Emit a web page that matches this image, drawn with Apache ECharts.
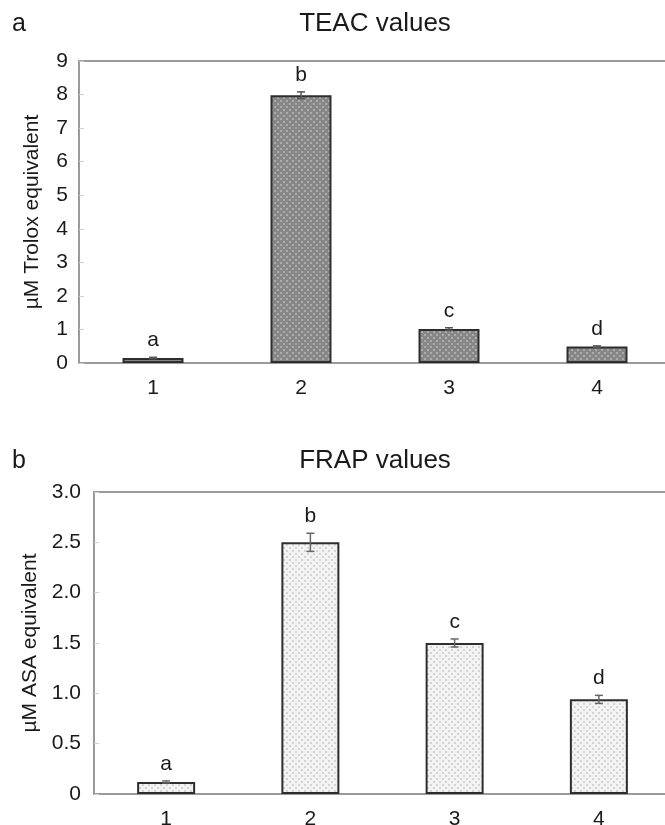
<!DOCTYPE html>
<html><head><meta charset="utf-8">
<script src="https://cdn.jsdelivr.net/npm/echarts@6/dist/echarts.min.js"></script>
<style>html,body{margin:0;padding:0;background:#fff}#c{width:665px;height:825px}</style>
</head><body><div id="c"></div>
<script>
// ---- data ----
const categories = ['1', '2', '3', '4'];
const teacValues = [0.15, 7.98, 1.01, 0.49];
const teacErrors = [0.02, 0.10, 0.04, 0.02];
const teacLetters = ['a', 'b', 'c', 'd'];
const frapValues = [0.12, 2.50, 1.50, 0.94];
const frapErrors = [0.01, 0.09, 0.04, 0.04];
const frapLetters = ['a', 'b', 'c', 'd'];
const teacTitle = 'TEAC values';
const frapTitle = 'FRAP values';
const teacAxisName = 'µM Trolox equivalent';
const frapAxisName = 'µM ASA equivalent';

const FONT = "'Liberation Sans', Arial, sans-serif";

function pattern(bg, dot) {
  const c = document.createElement('canvas');
  c.width = 6; c.height = 6;
  const g = c.getContext('2d');
  g.fillStyle = bg; g.fillRect(0, 0, 6, 6);
  g.fillStyle = dot;
  g.fillRect(1, 1, 2, 2);
  g.fillRect(4, 4, 2, 2);
  return c;
}

function errRender(letters, color) {
  return function (params, api) {
    const x = api.value(0), v = api.value(1), e = api.value(2);
    const hi = api.coord([x, v + e]);
    const lo = api.coord([x, v - e]);
    const top = api.coord([x, v]);
    const hw = 4;
    const style = { stroke: color, lineWidth: 1.5 };
    const children = [];
    if (e > 0) {
      children.push({ type: 'line', shape: { x1: hi[0], y1: hi[1], x2: lo[0], y2: lo[1] }, style });
      children.push({ type: 'line', shape: { x1: hi[0] - hw, y1: hi[1], x2: hi[0] + hw, y2: hi[1] }, style });
      children.push({ type: 'line', shape: { x1: lo[0] - hw, y1: lo[1], x2: lo[0] + hw, y2: lo[1] }, style });
    }
    const ty = Math.min(hi[1], top[1]) - 17;
    children.push({ type: 'text', x: hi[0], y: ty, style: { text: letters[params.dataIndex], fill: '#1a1a1a', font: '21px ' + FONT, align: 'center', verticalAlign: 'middle' } });
    return { type: 'group', children };
  };
}

function axisCommon() {
  return {
    axisLine: { show: true, lineStyle: { color: '#9a9a9a', width: 2 } },
    splitLine: { show: false },
  };
}

const chart = echarts.init(document.getElementById('c'), null, { renderer: 'canvas' });
chart.setOption({
  backgroundColor: '#ffffff',
  animation: false,
  graphic: [
    { type: 'text', x: 12, y: 24, style: { text: 'a', font: '25px ' + FONT, fill: '#1a1a1a', verticalAlign: 'middle' } },
    { type: 'text', x: 375, y: 24, style: { text: teacTitle, font: '26px ' + FONT, fill: '#1a1a1a', align: 'center', verticalAlign: 'middle' } },
    { type: 'text', x: 12, y: 461, style: { text: 'b', font: '25px ' + FONT, fill: '#1a1a1a', verticalAlign: 'middle' } },
    { type: 'text', x: 375, y: 461, style: { text: frapTitle, font: '26px ' + FONT, fill: '#1a1a1a', align: 'center', verticalAlign: 'middle' } }
  ],
  grid: [
    { left: 79, right: -6, top: 61, height: 302, show: true, borderColor: '#9a9a9a', borderWidth: 2, backgroundColor: 'transparent', outerBoundsMode: 'none', containLabel: false },
    { left: 94, right: -6, top: 492, height: 302, show: true, borderColor: '#9a9a9a', borderWidth: 2, backgroundColor: 'transparent', outerBoundsMode: 'none', containLabel: false }
  ],
  xAxis: [0, 1].map(i => Object.assign(axisCommon(), {
    type: 'category', gridIndex: i, data: categories,
    axisTick: { show: false },
    axisLabel: { color: '#1a1a1a', fontSize: 21, fontFamily: FONT, margin: 15 }
  })),
  yAxis: [
    Object.assign(axisCommon(), {
      type: 'value', gridIndex: 0, min: 0, max: 9, interval: 1,
      name: teacAxisName, nameLocation: 'middle', nameGap: 36,
      nameTextStyle: { color: '#1a1a1a', fontSize: 21, fontFamily: FONT },
      axisTick: { show: true, inside: true, length: 5, lineStyle: { color: '#cfcfcf' } },
      axisLabel: { color: '#1a1a1a', fontSize: 21, fontFamily: FONT, margin: 11 }
    }),
    Object.assign(axisCommon(), {
      type: 'value', gridIndex: 1, min: 0, max: 3, interval: 0.5,
      name: frapAxisName, nameLocation: 'middle', nameGap: 50,
      nameTextStyle: { color: '#1a1a1a', fontSize: 21, fontFamily: FONT },
      axisTick: { show: true, inside: true, length: 5, lineStyle: { color: '#cfcfcf' } },
      axisLabel: { color: '#1a1a1a', fontSize: 21, fontFamily: FONT, margin: 13,
        formatter: v => v === 0 ? '0' : v.toFixed(1) }
    })
  ],
  series: [
    {
      type: 'bar', xAxisIndex: 0, yAxisIndex: 0, data: teacValues, barWidth: 61,
      itemStyle: { color: { image: pattern('#878787', '#acacac'), repeat: 'repeat' }, borderColor: '#2e2e2e', borderWidth: 2 }
    },
    {
      type: 'custom', xAxisIndex: 0, yAxisIndex: 0, z: 5,
      data: teacValues.map((v, i) => [i, v, teacErrors[i]]),
      renderItem: errRender(teacLetters, '#555')
    },
    {
      type: 'bar', xAxisIndex: 1, yAxisIndex: 1, data: frapValues, barWidth: 58,
      itemStyle: { color: { image: pattern('#f3f3f3', '#d4d4d4'), repeat: 'repeat' }, borderColor: '#2e2e2e', borderWidth: 2 }
    },
    {
      type: 'custom', xAxisIndex: 1, yAxisIndex: 1, z: 5,
      data: frapValues.map((v, i) => [i, v, frapErrors[i]]),
      renderItem: errRender(frapLetters, '#666')
    }
  ]
});
</script>
</body></html>
